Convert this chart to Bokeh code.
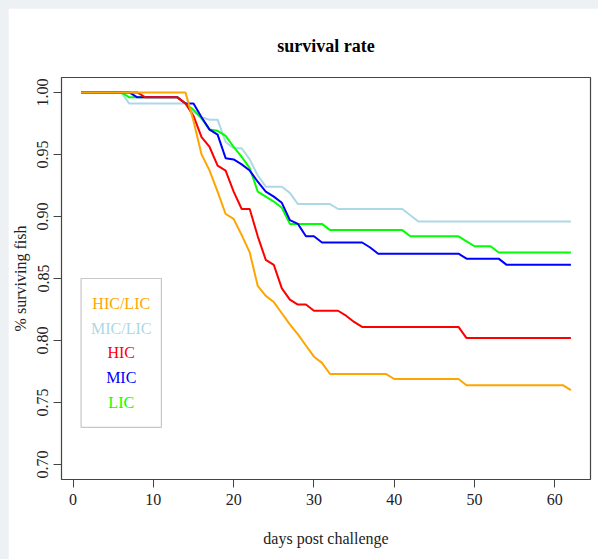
from bokeh.plotting import figure
from bokeh.models import Range1d, FixedTicker, NumeralTickFormatter, BoxAnnotation, ColumnDataSource
from bokeh.core.properties import value
from bokeh.embed import file_html
from bokeh.resources import INLINE

days = list(range(1, 63))

hic_lic = [1, 1, 1, 1, 1, 1, 1, 1, 1, 1,
           1, 1, 1, 1, 0.977, 0.950, 0.937, 0.920, 0.902, 0.898,
           0.885, 0.871, 0.844, 0.836, 0.831, 0.822, 0.813, 0.805, 0.796, 0.787,
           0.782, 0.773, 0.773, 0.773, 0.773, 0.773, 0.773, 0.773, 0.773, 0.769,
           0.769, 0.769, 0.769, 0.769, 0.769, 0.769, 0.769, 0.769, 0.764, 0.764,
           0.764, 0.764, 0.764, 0.764, 0.764, 0.764, 0.764, 0.764, 0.764, 0.764,
           0.764, 0.760]

mic_lic = [1, 1, 1, 1, 1, 1, 0.991, 0.991, 0.991, 0.991,
           0.991, 0.991, 0.991, 0.991, 0.984, 0.980, 0.978, 0.978, 0.960, 0.955,
           0.955, 0.946, 0.933, 0.924, 0.924, 0.924, 0.919, 0.910, 0.910, 0.910,
           0.910, 0.910, 0.906, 0.906, 0.906, 0.906, 0.906, 0.906, 0.906, 0.906,
           0.906, 0.901, 0.896, 0.896, 0.896, 0.896, 0.896, 0.896, 0.896, 0.896,
           0.896, 0.896, 0.896, 0.896, 0.896, 0.896, 0.896, 0.896, 0.896, 0.896,
           0.896, 0.896]

hic = [1, 1, 1, 1, 1, 1, 1, 1, 0.996, 0.996,
       0.996, 0.996, 0.996, 0.991, 0.981, 0.964, 0.956, 0.941, 0.937, 0.920,
       0.906, 0.906, 0.884, 0.865, 0.861, 0.842, 0.833, 0.829, 0.829, 0.824,
       0.824, 0.824, 0.824, 0.820, 0.815, 0.811, 0.811, 0.811, 0.811, 0.811,
       0.811, 0.811, 0.811, 0.811, 0.811, 0.811, 0.811, 0.811, 0.802, 0.802,
       0.802, 0.802, 0.802, 0.802, 0.802, 0.802, 0.802, 0.802, 0.802, 0.802,
       0.802, 0.802]

mic = [1, 1, 1, 1, 1, 1, 1, 0.996, 0.996, 0.996,
       0.996, 0.996, 0.996, 0.991, 0.991, 0.980, 0.970, 0.966, 0.947, 0.946,
       0.942, 0.937, 0.928, 0.920, 0.916, 0.911, 0.897, 0.894, 0.884, 0.884,
       0.879, 0.879, 0.879, 0.879, 0.879, 0.879, 0.875, 0.870, 0.870, 0.870,
       0.870, 0.870, 0.870, 0.870, 0.870, 0.870, 0.870, 0.870, 0.866, 0.866,
       0.866, 0.866, 0.866, 0.861, 0.861, 0.861, 0.861, 0.861, 0.861, 0.861,
       0.861, 0.861]

lic = [1, 1, 1, 1, 1, 1, 0.996, 0.996, 0.996, 0.996,
       0.996, 0.996, 0.996, 0.991, 0.986, 0.979, 0.970, 0.969, 0.965, 0.956,
       0.948, 0.939, 0.920, 0.916, 0.912, 0.907, 0.894, 0.894, 0.894, 0.894,
       0.894, 0.889, 0.889, 0.889, 0.889, 0.889, 0.889, 0.889, 0.889, 0.889,
       0.889, 0.884, 0.884, 0.884, 0.884, 0.884, 0.884, 0.884, 0.880, 0.876,
       0.876, 0.876, 0.871, 0.871, 0.871, 0.871, 0.871, 0.871, 0.871, 0.871,
       0.871, 0.871]

legend_labels = ["HIC/LIC", "MIC/LIC", "HIC", "MIC", "LIC"]
legend_colors = ["#FFA500", "#ADD8E6", "#FF0000", "#0000FF", "#00FF00"]
series = [hic_lic, mic_lic, hic, mic, lic]

x_ticks = [0, 10, 20, 30, 40, 50, 60]
y_ticks = [0.70, 0.75, 0.80, 0.85, 0.90, 0.95, 1.00]

FONT = "Liberation Serif"

p = figure(width=590, height=551, output_backend="svg", toolbar_location=None,
           x_range=Range1d(-1.44, 64.44), y_range=Range1d(0.688, 1.012),
           title="survival rate",
           min_border_left=52, min_border_right=8, min_border_top=69, min_border_bottom=80)
p.background_fill_color = "white"
p.border_fill_color = "white"
p.outline_line_color = "#444444"
p.outline_line_width = 1.2
p.grid.visible = False

p.title.align = "center"
p.title.text_font = FONT
p.title.text_font_size = "18px"
p.title.text_font_style = "bold"
p.title.text_color = "black"
p.title.standoff = 44

for ax in (p.xaxis[0], p.yaxis[0]):
    ax.axis_line_color = None
    ax.major_tick_line_color = "#444444"
    ax.major_tick_in = 0
    ax.major_tick_out = 8
    ax.minor_tick_line_color = None
    ax.major_label_text_font = FONT
    ax.major_label_text_font_size = "16px"
    ax.major_label_text_color = "#222222"
    ax.axis_label_text_font = FONT
    ax.axis_label_text_font_size = "16px"
    ax.axis_label_text_font_style = "normal"
    ax.axis_label_text_color = "#222222"

p.xaxis.ticker = FixedTicker(ticks=x_ticks)
p.yaxis.ticker = FixedTicker(ticks=y_ticks)
p.yaxis.formatter = NumeralTickFormatter(format="0.00")
p.yaxis.major_label_orientation = "parallel"
p.xaxis.axis_label = "days post challenge"
p.yaxis.axis_label = "% surviving fish"
p.xaxis.major_label_standoff = 6
p.xaxis.axis_label_standoff = 22
p.yaxis.major_label_standoff = 5
p.yaxis.axis_label_standoff = 6

# draw order: light blue, green, blue, red, orange on top
for idx in [1, 4, 3, 2, 0]:
    p.line(days, series[idx], line_color=legend_colors[idx], line_width=2)

# legend (R-style: text only, coloured, in a box anchored at x=1, y=0.85)
leg_x, leg_top, leg_step = 1, 0.85, 0.02
box = BoxAnnotation(left=leg_x, right=leg_x + 10.0, top=leg_top,
                    bottom=leg_top - leg_step * (len(legend_labels) + 1),
                    fill_color=None, line_color="#444444", line_width=1.2)
p.add_layout(box)
src = ColumnDataSource(dict(
    x=[leg_x + 5.0] * len(legend_labels),
    y=[leg_top - leg_step * (i + 1) for i in range(len(legend_labels))],
    text=legend_labels, color=legend_colors))
p.text(x="x", y="y", text="text", text_color="color", source=src,
       text_font=value(FONT), text_font_size="16px",
       text_align="center", text_baseline="middle")

html = file_html(p, INLINE)
style = ("<style>html, body { background-color: #eef1f4 !important; } "
         "body { padding: 8px 0 0 8px !important; margin: 0 !important; }</style>")
html = html.replace("</head>", style + "</head>", 1)
open("out.html", "w").write(html)
